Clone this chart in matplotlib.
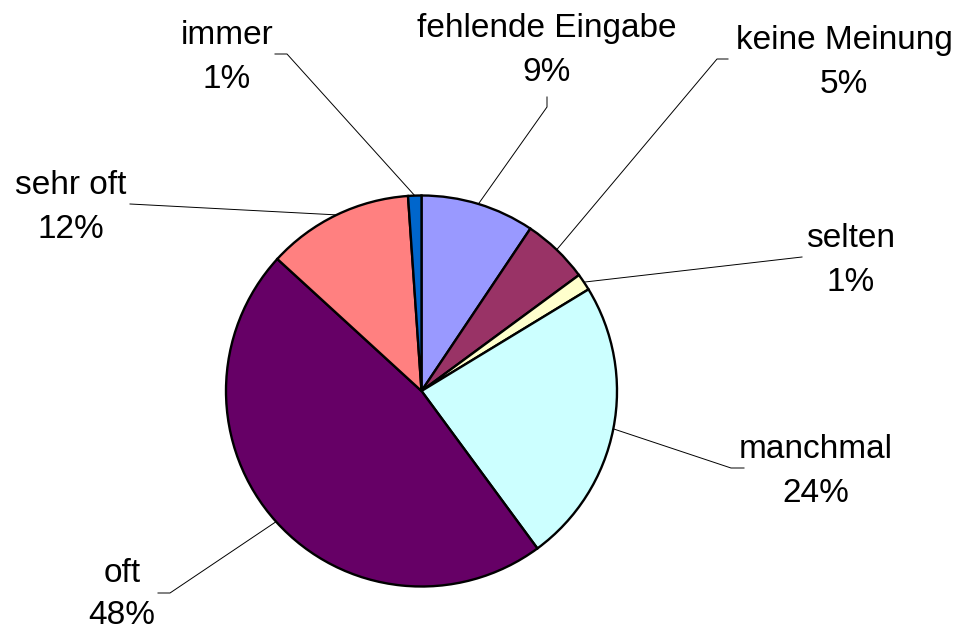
import matplotlib
matplotlib.use("Agg")
import matplotlib.pyplot as plt
import numpy as np

# ---- data ----
categories = ["fehlende Eingabe", "keine Meinung", "selten", "manchmal",
              "oft", "sehr oft", "immer"]
values = [9.4, 5.5, 1.4, 23.6, 46.9, 12.1, 1.1]
pct_labels = ["9%", "5%", "1%", "24%", "48%", "12%", "1%"]
colors = ["#9999FF", "#993366", "#FFFFCC", "#CCFFFF", "#660066", "#FF8080", "#0066CC"]

# ---- layout (pixel coordinates, y measured from top) ----
W, H = 962, 630
center_px = (421.5, 391.0)
radius_px = 195.5
# label centre x, baseline of name line, baseline of percentage line
label_pos = [(547, 37, 81), (844, 49, 93), (851, 247, 291), (816, 458, 502),
             (122, 582, 624), (71, 194, 238), (227, 44, 88)]
# leader line end points (elbow, end)
leader_ends = [[(547, 107), (547, 97)],
               [(717, 59), (728, 59)],
               [(802, 257), (802, 257)],
               [(731, 468), (744, 468)],
               [(170, 593), (158, 593)],
               [(130, 204), (130, 204)],
               [(287, 54), (275, 54)]]

fig = plt.figure(figsize=(W / 100, H / 100), dpi=100)
ax = fig.add_axes([0, 0, 1, 1])

def Y(y):
    return H - y

wedges, _ = ax.pie(values, colors=colors, startangle=90, counterclock=False,
                   center=(center_px[0], Y(center_px[1])), radius=radius_px,
                   wedgeprops=dict(edgecolor="black", linewidth=1.7))
ax.set_xlim(0, W)
ax.set_ylim(0, H)
ax.set_aspect("equal")
ax.axis("off")

font = dict(family=["Liberation Sans", "DejaVu Sans"], fontsize=24, color="black")

for w, name, pct, (lx, yb1, yb2), ends in zip(wedges, categories, pct_labels,
                                             label_pos, leader_ends):
    mid = np.deg2rad((w.theta1 + w.theta2) / 2)
    cx, cy = w.center
    sx = cx + w.r * np.cos(mid)
    sy = cy + w.r * np.sin(mid)
    xs = [sx] + [p[0] for p in ends]
    ys = [sy] + [Y(p[1]) for p in ends]
    ax.plot(xs, ys, color="black", linewidth=0.7, zorder=0.5)
    ax.text(lx, Y(yb1), name, ha="center", va="baseline", **font)
    ax.text(lx, Y(yb2), pct, ha="center", va="baseline", **font)

fig.savefig("out.png", dpi=100, facecolor="white")
